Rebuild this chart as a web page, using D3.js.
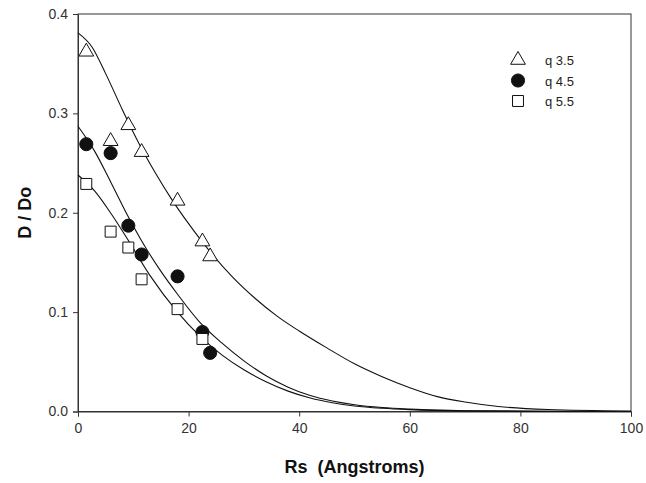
<!DOCTYPE html>
<html>
<head>
<meta charset="utf-8">
<script src="https://cdn.jsdelivr.net/npm/d3@7"></script>
<style>
  body { margin: 0; background: #fff; }
  text { font-family: "Liberation Sans", Arial, sans-serif; }
</style>
</head>
<body>
<svg id="chart" width="646" height="483"></svg>
<script>
// measured points, Rs (Angstroms) vs D/Do
const rsPoints = [1.5, 5.9, 9.1, 11.5, 18.0, 22.5, 23.9];
const q35 = [0.362, 0.272, 0.288, 0.261, 0.212, 0.171, 0.156];
const q45 = [0.269, 0.260, 0.187, 0.158, 0.136, 0.080, 0.059];
const q55 = [0.229, 0.181, 0.165, 0.133, 0.103, 0.073, null];

// fitted curves
const fitX35 = [0, 2.5, 5, 8, 11, 14, 17, 20, 24, 28, 32, 36, 40, 45, 50, 55, 60, 65, 70, 76, 85, 100];
const fitY35 = [0.381, 0.367, 0.340, 0.304, 0.270, 0.240, 0.213, 0.189, 0.160, 0.135, 0.114, 0.096, 0.081, 0.064, 0.048, 0.035, 0.024, 0.015, 0.0095, 0.005, 0.002, 0.0005];
const fitX45 = [0, 3, 6, 9, 12, 15, 18, 22, 26, 30, 34, 38, 42, 46, 50, 55, 60, 70, 85, 100];
const fitY45 = [0.287, 0.262, 0.230, 0.197, 0.167, 0.141, 0.118, 0.090, 0.069, 0.051, 0.036, 0.0245, 0.016, 0.0105, 0.0068, 0.0040, 0.0024, 0.0008, 0.0002, 0];
const fitX55 = [0, 3, 6, 9, 13, 18, 22, 26, 30, 34, 38, 42, 46, 50, 55, 60, 70, 85, 100];
const fitY55 = [0.238, 0.222, 0.199, 0.173, 0.137, 0.100, 0.076, 0.057, 0.042, 0.030, 0.0205, 0.0135, 0.0088, 0.0056, 0.0033, 0.0019, 0.0006, 0.0001, 0];

const xTicks = [0, 20, 40, 60, 80, 100];
const yTicks = [0, 0.1, 0.2, 0.3, 0.4];
const seriesNames = ["q 3.5", "q 4.5", "q 5.5"];

const svg = d3.select("#chart");
const margin = { top: 14, left: 78 };
const innerW = 553, innerH = 397.5;

const x = d3.scaleLinear().domain([0, 100]).range([margin.left, margin.left + innerW]);
const y = d3.scaleLinear().domain([0, 0.4]).range([margin.top + innerH, margin.top]);

const axisColor = "#333";

// frame
svg.append("rect")
  .attr("x", x(0)).attr("y", y(0.4))
  .attr("width", innerW).attr("height", innerH)
  .attr("fill", "none").attr("stroke", axisColor).attr("stroke-width", 1);

const gX = svg.append("g")
  .attr("transform", `translate(0, ${y(0)})`)
  .call(d3.axisBottom(x).tickValues(xTicks).tickSize(5).tickPadding(7).tickFormat(d3.format("d")));
const gY = svg.append("g")
  .attr("transform", `translate(${x(0)}, 0)`)
  .call(d3.axisLeft(y).tickValues(yTicks).tickSize(5).tickPadding(5).tickFormat(d3.format(".1f")));

[gX, gY].forEach(g => {
  g.select(".domain").attr("stroke", axisColor);
  g.selectAll(".tick line").attr("stroke", axisColor);
  g.selectAll(".tick text")
    .attr("fill", "#333")
    .attr("font-size", 14)
    .style("font-family", "'Liberation Sans', Arial, sans-serif");
});

// fitted lines
const line = d3.line()
  .x(d => x(d[0]))
  .y(d => y(d[1]))
  .curve(d3.curveMonotoneX);

const fits = [
  d3.zip(fitX35, fitY35),
  d3.zip(fitX45, fitY45),
  d3.zip(fitX55, fitY55)
];

svg.append("g").selectAll("path.fit").data(fits).join("path")
  .attr("class", "fit")
  .attr("fill", "none")
  .attr("stroke", "#111")
  .attr("stroke-width", 1.1)
  .attr("d", line);

// markers
const symbols = [
  { type: d3.symbolTriangle, size: 95, fill: "#fff" },
  { type: d3.symbolCircle, size: 135, fill: "#111" },
  { type: d3.symbolSquare, size: 120, fill: "#fff" }
];

const pointSets = [q35, q45, q55].map(vals =>
  rsPoints.map((r, i) => ({ r, v: vals[i] })).filter(d => d.v != null)
);

pointSets.forEach((pts, k) => {
  const sym = symbols[k];
  svg.append("g").selectAll("path.pt").data(pts).join("path")
    .attr("class", "pt")
    .attr("transform", d => `translate(${x(d.r)}, ${y(d.v)})`)
    .attr("d", d3.symbol().type(sym.type).size(sym.size))
    .attr("fill", sym.fill)
    .attr("stroke", "#111")
    .attr("stroke-width", 1);
});

// legend
const legend = svg.append("g").attr("transform", "translate(518, 60)");
seriesNames.forEach((name, k) => {
  const sym = symbols[k];
  const row = legend.append("g").attr("transform", `translate(0, ${k * 20.5})`);
  row.append("path")
    .attr("d", d3.symbol().type(sym.type).size(sym.size))
    .attr("fill", sym.fill)
    .attr("stroke", "#111")
    .attr("stroke-width", 1);
  row.append("text")
    .attr("x", 27).attr("y", 5)
    .attr("font-size", 13)
    .attr("fill", "#222")
    .text(name);
});

// axis titles
svg.append("text")
  .attr("x", x(50)).attr("y", 473)
  .attr("text-anchor", "middle")
  .attr("font-size", 18).attr("font-weight", "bold")
  .attr("fill", "#111")
  .attr("xml:space", "preserve")
  .style("white-space", "pre")
  .text("Rs  (Angstroms)");

svg.append("text")
  .attr("transform", `translate(31, ${y(0.2)}) rotate(-90)`)
  .attr("text-anchor", "middle")
  .attr("font-size", 18).attr("font-weight", "bold")
  .attr("fill", "#111")
  .text("D / Do");
</script>
</body>
</html>
